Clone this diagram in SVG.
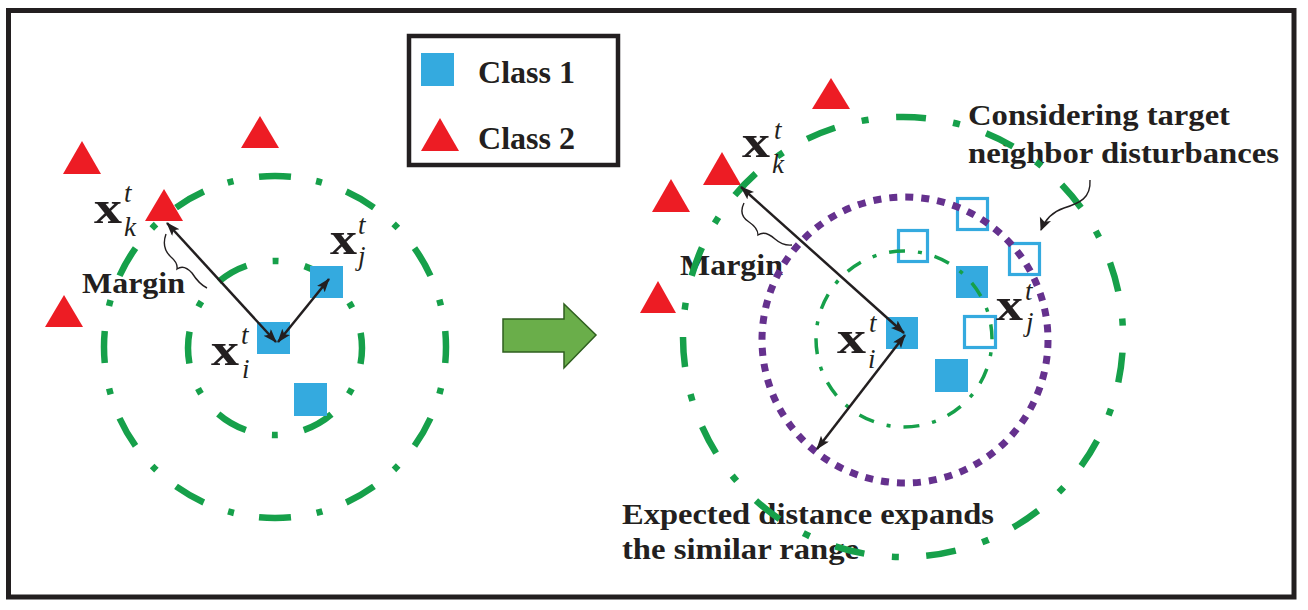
<svg xmlns="http://www.w3.org/2000/svg" width="1308" height="610" viewBox="0 0 1308 610">
  <style>
    .lbl { font-family: "Liberation Serif", "Times New Roman", serif; font-weight: bold; fill: #231F20; }
    .mx { font-family: "Liberation Serif", "Times New Roman", serif; font-weight: bold; font-size: 47px; fill: #231F20; }
    .mi { font-family: "Liberation Serif", "Times New Roman", serif; font-style: italic; font-size: 27px; fill: #231F20; }
    .tri { fill: #ED1C24; }
    .sq { fill: #34AADF; }
    .osq { fill: none; stroke: #34AADF; stroke-width: 3.2; }
    .gc { fill: none; stroke: #16A04A; stroke-width: 6.5; }
    .gthin { fill: none; stroke: #16A04A; stroke-width: 3.5; }
    .pc { fill: none; stroke: #65318E; stroke-width: 7; }
    .arr { fill: none; stroke: #231F20; stroke-width: 2.5; marker-start: url(#ah); marker-end: url(#ah); }
    .thin { fill: none; stroke: #231F20; stroke-width: 1.4; }
  </style>
  <defs>
    <marker id="ah" markerUnits="userSpaceOnUse" markerWidth="16" markerHeight="12" refX="13" refY="5" orient="auto-start-reverse">
      <path d="M0,0 L14,5 L0,10 L3,5 z" fill="#231F20"/>
    </marker>
    <marker id="ah2" markerUnits="userSpaceOnUse" markerWidth="16" markerHeight="14" refX="12" refY="6" orient="auto">
      <path d="M0,0 L13,6 L0,12 L3,6 z" fill="#231F20"/>
    </marker>
  </defs>

  <rect id="frame" x="8.5" y="10.5" width="1285.5" height="586.5" fill="#FFFFFF" stroke="#231F20" stroke-width="5"/>

  <!-- Legend -->
  <g id="legend">
    <rect x="409" y="36" width="209" height="129" fill="#FFFFFF" stroke="#231F20" stroke-width="4.5"/>
    <rect class="sq" x="421" y="53" width="33" height="33"/>
    <polygon class="tri" points="440,118 459,151 421,151"/>
    <text class="lbl" x="478" y="83" font-size="32" textLength="97" lengthAdjust="spacingAndGlyphs">Class 1</text>
    <text class="lbl" x="478" y="149" font-size="32" textLength="97" lengthAdjust="spacingAndGlyphs">Class 2</text>
  </g>

  <!-- Left panel labels -->
  <g id="left-labels">
    <text class="lbl" x="82" y="293" font-size="30" textLength="103" lengthAdjust="spacingAndGlyphs">Margin</text>
  </g>

  <!-- Left panel circles -->
  <g id="left-circles">
    <circle id="left-outer" class="gc" cx="275" cy="347" r="171" stroke-dasharray="32 25.5 6 26" stroke-dashoffset="16"/>
    <circle id="left-inner" class="gc" cx="275" cy="348" r="87" stroke-dasharray="32 26.5 6 26.6" stroke-dashoffset="16"/>
  </g>

  <!-- Left panel points -->
  <g id="left-points">
    <polygon class="tri" points="82,141 101,174 63,174"/>
    <polygon class="tri" points="260,116 279,148 241,148"/>
    <polygon id="left-xk" class="tri" points="164,189 183,221 145,221"/>
    <polygon class="tri" points="64,295 83,327 45,327"/>
    <rect id="left-xi" class="sq" x="257" y="322" width="33" height="32"/>
    <rect id="left-xj" class="sq" x="310" y="266" width="33" height="32"/>
    <rect class="sq" x="294" y="383" width="33" height="33"/>
  </g>

  <!-- Right panel labels -->
  <g id="right-labels">
    <text class="lbl" x="680" y="275" font-size="30" textLength="103" lengthAdjust="spacingAndGlyphs">Margin</text>
    <text class="lbl" x="968" y="125" font-size="30" textLength="262" lengthAdjust="spacingAndGlyphs">Considering target</text>
    <text class="lbl" x="968" y="163" font-size="30" textLength="311" lengthAdjust="spacingAndGlyphs">neighbor disturbances</text>
    <text class="lbl" x="622" y="524" font-size="30" textLength="372" lengthAdjust="spacingAndGlyphs">Expected distance expands</text>
    <text class="lbl" x="622" y="559" font-size="30" textLength="237" lengthAdjust="spacingAndGlyphs">the similar range</text>
  </g>

  <!-- Right panel points -->
  <g id="right-points">
    <polygon class="tri" points="831,78 850,109 812,109"/>
    <polygon id="right-xk" class="tri" points="722,152 741,185 703,185"/>
    <polygon class="tri" points="671,179 690,212 652,212"/>
    <polygon class="tri" points="658,281 676,313 640,313"/>
    <rect id="right-xi" class="sq" x="886" y="317" width="32" height="32"/>
    <rect class="sq" x="956" y="266" width="32" height="32"/>
    <rect class="sq" x="935" y="359" width="33" height="33"/>
    <rect class="osq" x="957.5" y="198.5" width="30" height="31"/>
    <rect class="osq" x="898.5" y="230.5" width="29" height="31"/>
    <rect class="osq" x="1009.5" y="243.5" width="30" height="31"/>
    <rect class="osq" x="964.5" y="316.5" width="31" height="31"/>
  </g>

  <!-- Right panel circles -->
  <g id="right-circles">
    <circle id="right-outer" class="gc" cx="903" cy="337" r="220" stroke-dasharray="30 27.5 7 27.65" stroke-dashoffset="-15.7"/>
    <circle id="right-inner" class="gthin" cx="904" cy="339" r="88" stroke-dasharray="16 13 4 13.08" stroke-dashoffset="-30.4"/>
    <circle id="right-purple" class="pc" cx="905" cy="340" r="143" stroke-dasharray="8 8.045"/>
  </g>

  <!-- Block arrow -->
  <g id="block-arrow">
    <polygon points="503,319 564,319 564,304 596,335 564,368 564,352 503,352" fill="#6AAE4A" stroke="#2F5F1F" stroke-width="1.5"/>
  </g>

  <!-- Connectors -->
  <g id="connectors">
    <line class="arr" x1="167" y1="223" x2="276" y2="342"/>
    <line class="arr" x1="278" y1="342" x2="329" y2="279"/>
    <line class="arr" x1="741" y1="187" x2="904" y2="333"/>
    <line class="arr" x1="905" y1="335" x2="817" y2="449"/>
    <path class="thin" d="M166,234 Q161,248 171,257 Q178,263 177,269 Q184,264 192,273 Q199,284 207,288"/>
    <path class="thin" d="M744,203 Q738,215 749,222 Q758,228 758,235 Q765,230 775,239 Q783,246 792,245"/>
    <path class="thin" d="M1090,180 C1091,198 1080,203 1064,208 C1052,212 1045,220 1041,230" marker-end="url(#ah2)"/>
  </g>

  <!-- Math labels -->
  <g id="math">
    <text class="mx" x="94" y="223" textLength="28" lengthAdjust="spacingAndGlyphs">x</text><text class="mi" x="124" y="202">t</text><text class="mi" x="124" y="236">k</text>
    <text class="mx" x="211" y="365" textLength="28" lengthAdjust="spacingAndGlyphs">x</text><text class="mi" x="241" y="344">t</text><text class="mi" x="242" y="378">i</text>
    <text class="mx" x="330" y="254" textLength="27" lengthAdjust="spacingAndGlyphs">x</text><text class="mi" x="358" y="234">t</text><text class="mi" x="358" y="265">j</text>
    <text class="mx" x="742" y="157" textLength="28" lengthAdjust="spacingAndGlyphs">x</text><text class="mi" x="774" y="139">t</text><text class="mi" x="772" y="173">k</text>
    <text class="mx" x="837" y="353" textLength="29" lengthAdjust="spacingAndGlyphs">x</text><text class="mi" x="869" y="332">t</text><text class="mi" x="868" y="368">i</text>
    <text class="mx" x="996" y="320" textLength="27" lengthAdjust="spacingAndGlyphs">x</text><text class="mi" x="1025" y="300">t</text><text class="mi" x="1026" y="331">j</text>
  </g>
</svg>
